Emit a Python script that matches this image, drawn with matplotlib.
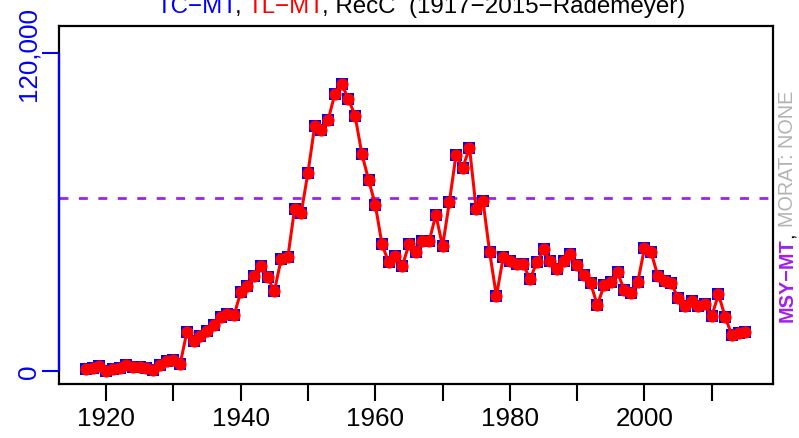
import matplotlib
matplotlib.use("Agg")
import matplotlib.pyplot as plt
import matplotlib.transforms as mtransforms

plt.rcParams['font.family'] = ['Liberation Sans', 'DejaVu Sans']

years = list(range(1917, 2016))
catch_tl = [750, 1100, 1900, 100, 750, 1100, 2250, 1500, 1500, 1100,
            200, 2250, 3800, 4100, 2600, 14700, 11300, 13200, 15000, 17300,
            20300, 21400, 21000, 29700, 32000, 35700, 39500, 35400, 30100, 42100,
            42900, 61000, 59800, 74900, 92500, 91000, 94800, 104600, 108300, 102700,
            96300, 82000, 72200, 62800, 47800, 41000, 43300, 39500, 47800, 45100,
            48900, 48900, 59000, 47000, 63600, 81600, 76700, 84300, 61000, 64300,
            44800, 28200, 42900, 41400, 40200, 40200, 34600, 41000, 45900, 41400,
            38400, 41400, 44000, 39900, 36100, 33100, 24800, 32400, 33500, 37200,
            30500, 29300, 33500, 46300, 44800, 35700, 33800, 33100, 27500, 24500,
            26300, 24500, 25200, 20700, 29000, 20300, 13500, 14300, 14700]
catch_tc = list(catch_tl)
msy = 65400
ytick_vals = [0, 120000]
ytick_labels = ["0", "120,000"]
xtick_vals = list(range(1920, 2011, 10))
xtick_labels = [str(y) if y % 20 == 0 else "" for y in xtick_vals]
assert len(years) == len(catch_tl)

W, H = 799, 439
fig = plt.figure(figsize=(W / 100, H / 100), dpi=100)
ax = fig.add_axes([59 / W, 1 - 385 / H, (773 - 59) / W, (385 - 27) / H])

ax.axhline(msy, color='#A020F0', lw=2.0, linestyle=(0, (3.2, 3.8)), zorder=1)
ax.plot(years, catch_tc, linestyle='none', marker='s', ms=8.6, mew=0,
        color='blue', zorder=2)
ax.plot(years, catch_tl, color='red', lw=2.2, marker='o', ms=8.8, mew=0,
        zorder=3)

ax.set_xlim(1913.0, 2019.1)
ax.set_ylim(-4900, 130200)

for s in ax.spines.values():
    s.set_linewidth(1.6)
    s.set_color('black')

# blue partial left axis
trans = mtransforms.blended_transform_factory(ax.transAxes, ax.transData)
ax.plot([0, 0], [ytick_vals[0], ytick_vals[-1]], color='blue', lw=1.6,
        transform=trans, clip_on=False, zorder=5, solid_capstyle='butt')

ax.set_yticks(ytick_vals)
ax.set_yticklabels(ytick_labels, rotation=90, va='center', color='blue',
                   fontsize=18.7)
ax.tick_params(axis='y', direction='out', length=12, width=1.5, color='blue',
               pad=1)

ax.set_xticks(xtick_vals)
ax.set_xticklabels(xtick_labels, fontsize=18.7)
ax.tick_params(axis='x', direction='out', length=12, width=1.5, color='black',
               pad=4)

r = fig.canvas.get_renderer()


def text_width(s, **kw):
    t = fig.text(0, 0, s, **kw)
    w = t.get_window_extent(r).width
    t.remove()
    return w


# multicolour title
title_full = "TC\u2212MT, TL\u2212MT, RecC  (1917\u22122015\u2212Rademeyer)"
title_pieces = [("TC\u2212MT", 'blue', 5), (",", 'black', 6),
                ("TL\u2212MT", 'red', 12),
                (", RecC  (1917\u22122015\u2212Rademeyer)", 'black', len(title_full))]
fs_t = 18.7 * 529 / text_width(title_full, fontsize=18.7)
tkw = dict(fontsize=fs_t)
total = text_width(title_full, **tkw)
cx = 421
x0 = cx - total / 2
y_base = 1 - 13 / H
for s, c, end in title_pieces:
    xe = text_width(title_full[:end], **tkw)
    ws = text_width(s, **tkw)
    fig.text((x0 + xe - ws) / W, y_base, s, color=c, ha='left', va='baseline', **tkw)

# right rotated label (reads bottom to top)
rpieces = [("MSY\u2212MT", '#A020F0', 'bold'), (",", 'black', 'normal'),
           (" MORAT: NONE", '#B3B3B3', 'normal')]


def rlens(fs):
    out = []
    for s, c, w in rpieces:
        if s.startswith(" "):
            out.append(text_width("," + s, fontweight=w, fontsize=fs)
                       - text_width(",", fontweight=w, fontsize=fs))
        else:
            out.append(text_width(s, fontweight=w, fontsize=fs))
    return out


fs_r = 12 * 230 / sum(rlens(12))
lens = rlens(fs_r)
tot = sum(lens)
cy_from_bottom = H - 206
ypos = cy_from_bottom - tot / 2
for (s, c, w), L in zip(rpieces, lens):
    txt = s.strip()
    off = L - text_width(txt, fontweight=w, fontsize=fs_r) if s.startswith(" ") else 0
    fig.text(787.5 / W, (ypos + off) / H, txt, color=c, fontweight=w,
             rotation=90, ha='center', va='bottom', fontsize=fs_r)
    ypos += L

fig.savefig("out.png", dpi=100)
